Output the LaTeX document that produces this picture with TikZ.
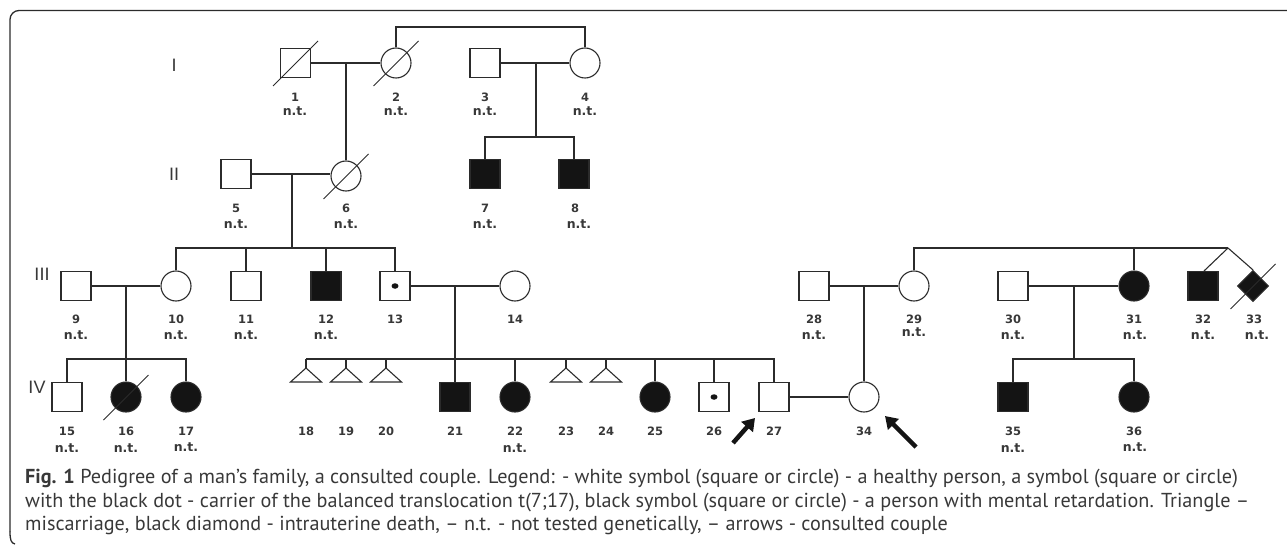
\documentclass[tikz,border=0pt]{standalone}
\usepackage{fontspec}
\setmainfont{Liberation Sans}
\newfontfamily\capfont{PT Sans}
\newfontfamily\lblfont{DejaVu Sans}
\usetikzlibrary{shapes.geometric,arrows.meta,calc}
\definecolor{ink}{HTML}{2B2B2B}
\definecolor{fillc}{HTML}{141414}
\definecolor{txt}{HTML}{383838}
\begin{document}
\begin{tikzpicture}[x=1pt,y=-1pt,
  ln/.style={draw=ink,line width=1.1pt},
  sq/.style={rectangle,draw=ink,line width=1.1pt,minimum width=30pt,minimum height=29pt,inner sep=0pt},
  ci/.style={circle,draw=ink,line width=1.1pt,minimum size=30pt,inner sep=0pt},
  aff/.style={fill=fillc},
  dia/.style={diamond,draw=ink,fill=fillc,line width=1.1pt,minimum width=31pt,minimum height=31pt,inner sep=0pt,aspect=1},
  dot/.style={ellipse,fill=fillc,minimum width=7pt,minimum height=5.5pt,inner sep=0pt},
  slash/.style={draw=ink,line width=0.9pt},
  num/.style={font=\lblfont\fontsize{11.5}{11.5}\selectfont\bfseries,text=txt,inner sep=0pt},
  nt/.style={font=\lblfont\fontsize{12.5}{12.5}\selectfont\bfseries,text=txt,inner sep=0pt},
  gen/.style={font=\fontsize{18}{18}\selectfont,text=txt,inner sep=0pt},
  bigarrow/.style={line width=4.5pt,draw=fillc,-{Triangle[width=15pt,length=12pt]}},
  captext/.style={font=\capfont\fontsize{20.2}{20.2}\selectfont,text=txt,anchor=base west,inner sep=0pt}]
\useasboundingbox (0,0) rectangle (1287,548);
\draw[ink,line width=1.3pt,rounded corners=9pt] (1295,10.5) -- (10,10.5) -- (10,532);
\draw[ink,line width=1.3pt] (10,531.5) .. controls (10,540) and (11,543) .. (15,544);
% generation labels
\node[gen] (gI) at (174,65) {I};
\node[gen] (gII) at (174,174) {II};
\node[gen] (gIII) at (42,274) {III};
\node[gen] (gIV) at (37,387) {IV};
% generation I
\node[sq] (n1) at (295.5,63) {};
\node[ci] (n2) at (396,63) {};
\node[sq] (n3) at (485,63) {};
\node[ci] (n4) at (585,63) {};
% generation II
\node[sq] (n5) at (236,174) {};
\node[ci] (n6) at (346,176) {};
\node[sq,aff] (n7) at (485,174) {};
\node[sq,aff] (n8) at (574,174) {};
% generation III
\node[sq] (n9) at (76,286) {};
\node[ci] (n10) at (176,286) {};
\node[sq] (n11) at (246,286) {};
\node[sq,aff] (n12) at (326,286) {};
\node[sq] (n13) at (395,286) {};
\node[dot] (d13) at (395,286) {};
\node[ci] (n14) at (515,286) {};
\node[sq] (n28) at (814,286) {};
\node[ci] (n29) at (914,286) {};
\node[sq] (n30) at (1013,286) {};
\node[ci,aff] (n31) at (1134,286) {};
\node[sq,aff] (n32) at (1203,286) {};
\node[dia] (n33) at (1253,286) {};
% generation IV
\node[sq] (n15) at (67,397) {};
\node[ci,aff] (n16) at (126,397) {};
\node[ci,aff] (n17) at (186,397) {};
\coordinate (n18) at (306,368);
\coordinate (n19) at (346,368);
\coordinate (n20) at (386,368);
\node[sq,aff] (n21) at (455,397) {};
\node[ci,aff] (n22) at (515,397) {};
\coordinate (n23) at (566,368);
\coordinate (n24) at (606,368);
\node[ci,aff] (n25) at (655,397) {};
\node[sq] (n26) at (714,397) {};
\node[dot] (d26) at (714,397) {};
\node[sq] (n27) at (774,397) {};
\node[ci] (n34) at (864,397) {};
\node[sq,aff] (n35) at (1013,397) {};
\node[ci,aff] (n36) at (1134,397) {};
% triangles (miscarriages)
\foreach \t in {n18,n19,n20,n23,n24}{
  \draw[ln,line join=miter] (\t) -- ($(\t)+(-15.5,14)$) -- ($(\t)+(15.5,14)$) -- cycle;
}
% slashes (deceased)
\foreach \s in {n1,n2,n6,n16,n33}{
  \draw[slash] ($(\s)+(-22.5,23)$) -- ($(\s)+(22.5,-22)$);
}
% couples
\draw[ln] (n1.east) -- (n2.west);
\draw[ln] (n3.east) -- (n4.west);
\draw[ln] (n5.east) -- (n6.west |- n5.east);
\draw[ln] (n9.east) -- (n10.west);
\draw[ln] (n13.east) -- (n14.west);
\draw[ln] (n27.east) -- (n34.west);
\draw[ln] (n28.east) -- (n29.west);
\draw[ln] (n30.east) -- (n31.west);
% sibling line 2-4
\coordinate (s24a) at (396,27);
\coordinate (s24b) at (585,27);
\draw[ln] (n2.north) -- (s24a) -- (s24b) -- (n4.north);
% 1-2 -> 6
\coordinate (m12) at (346,63);
\draw[ln] (m12) -- (n6.north);
% 3-4 -> 7,8
\coordinate (m34) at (536,63);
\coordinate (k34) at (536,137);
\draw[ln] (m34) -- (k34);
\draw[ln] (n7.north) |- (k34) -| (n8.north);
% 5-6 -> 10..13
\coordinate (m56) at (292,174);
\coordinate (k56) at (292,248);
\draw[ln] (m56) -- (k56);
\draw[ln] (n10.north) |- (k56) -| (n13.north);
\draw[ln] (n11.north) -- (n11.north |- k56);
\draw[ln] (n12.north) -- (n12.north |- k56);
% 9-10 -> 15..17
\coordinate (m910) at (126,286);
\coordinate (k910) at (126,359);
\draw[ln] (m910) -- (n16.north);
\draw[ln] (n15.north) |- (k910) -| (n17.north);
% 13-14 -> 18..27
\coordinate (m1314) at (455,286);
\coordinate (k1314) at (455,359);
\draw[ln] (m1314) -- (n21.north);
\draw[ln] ($(n18)+(0,-9)$) |- (k1314) -| (n27.north);
\foreach \c in {n18,n19,n20,n23,n24}{
  \draw[ln] (\c) -- ($(\c)+(0,-9)$);
}
\foreach \c in {n22,n25,n26}{
  \draw[ln] (\c.north) -- (\c.north |- k1314);
}
% 28-29 -> 34
\coordinate (m2829) at (864,286);
\draw[ln] (m2829) -- (n34.north);
% 29 siblings 31, twins 32-33
\coordinate (s29) at (914,248);
\coordinate (tw) at (1228,248);
\draw[ln] (n29.north) -- (s29) -- (tw);
\draw[ln] (n31.north) -- (n31.north |- tw);
\draw[ln] (tw) -- ($(n32.north)+(1,0)$);
\draw[ln] (tw) -- (n33.north);
% 30-31 -> 35,36
\coordinate (m3031) at (1074,286);
\coordinate (k3031) at (1074,359);
\draw[ln] (m3031) -- (k3031);
\draw[ln] (n35.north) |- (k3031) -| (n36.north);
% numbers
\foreach \n/\x/\y in {1/295/97,2/396/97,3/485/97,4/585/97,5/236/208,6/346/208,7/485/208,8/575/208,
  9/76/319,10/176/319,11/246/319,12/326/319,13/395/319,14/515/319,28/814/319,29/914/319,30/1013/319,31/1134/319,32/1203/319,33/1254/319,
  15/67/431,16/126/431,17/186/431,18/306/431,19/346/431,20/386/431,21/455/431,22/515/431,23/566/431,24/606/431,25/655/431,26/714/431,27/774/431,34/864/431,35/1013/431,36/1134/431}{
  \node[num] (l\n) at (\x,\y) {\n};
}
% n.t. labels
\foreach \n/\x/\y in {1/295/111,2/396/111,3/485/111,4/585/111,5/236/224,6/346/224,7/485/224,8/579/224,
  9/76/335,10/176/335,11/246/335,12/326/335,28/814/335,29/914/332,30/1013/335,31/1135/335,32/1203/335,33/1257/335,
  15/67/448,16/126/448,17/186/447,22/515/448,35/1013/448,36/1135/447}{
  \node[nt] (t\n) at (\x,\y) {n.t.};
}
% arrows for consulted couple
\coordinate (a1s) at (733,443);
\coordinate (a1e) at (755,418);
\draw[bigarrow] (a1s) -- (a1e);
\coordinate (a2s) at (916,447);
\coordinate (a2e) at (885,416);
\draw[bigarrow] (a2s) -- (a2e);
% caption
\node[captext] (c1) at (25,483) {\textbf{Fig. 1} Pedigree of a man’s family, a consulted couple. Legend: - white symbol (square or circle) - a healthy person, a symbol (square or circle)};
\node[captext] (c2) at (25,507) {with the black dot - carrier of the balanced translocation t(7;17), black symbol (square or circle) - a person with mental retardation. Triangle –};
\node[captext] (c3) at (25,530) {miscarriage, black diamond - intrauterine death, – n.t. - not tested genetically, – arrows - consulted couple};
\end{tikzpicture}
\end{document}
